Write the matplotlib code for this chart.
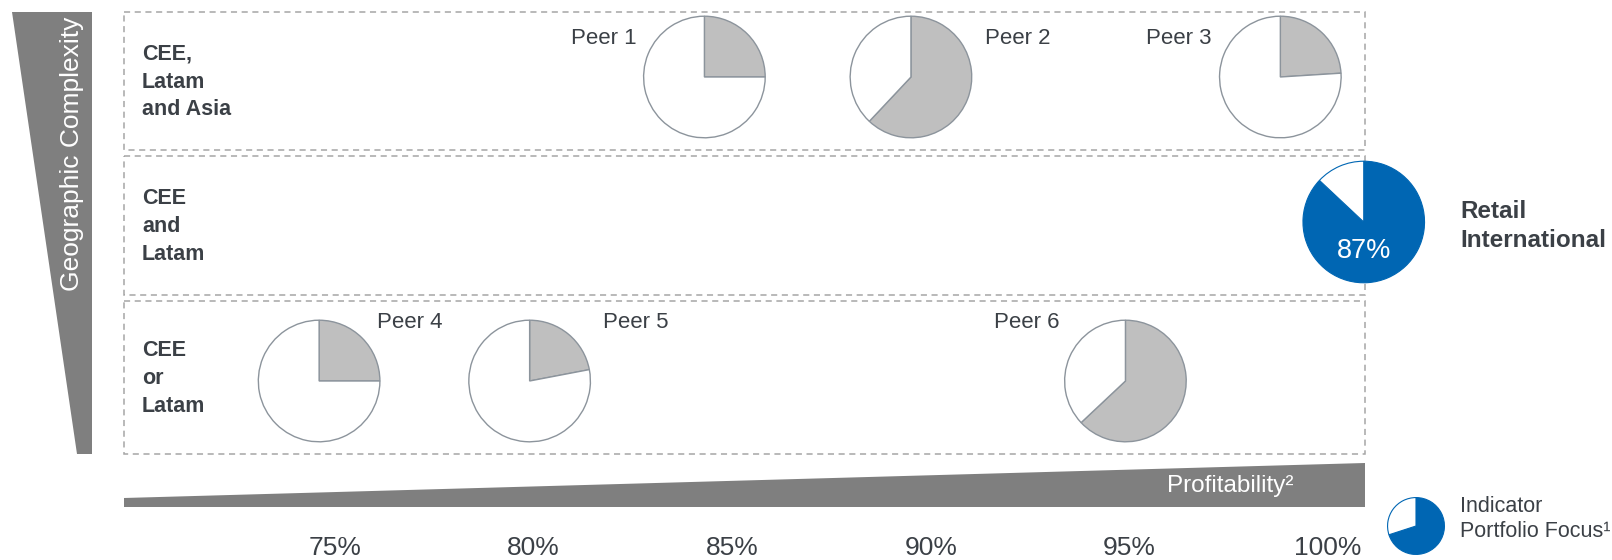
import matplotlib
matplotlib.use("Agg")
import matplotlib.pyplot as plt
from matplotlib.patches import Polygon, Rectangle

plt.rcParams['font.family'] = ['Liberation Sans', 'DejaVu Sans']

# ---- data -------------------------------------------------------------
peer_names = ["Peer 1", "Peer 2", "Peer 3", "Peer 4", "Peer 5", "Peer 6"]
peer_profit = [84.3, 89.5, 98.8, 74.6, 79.9, 94.9]      # profitability (%)
peer_row = [0, 0, 0, 2, 2, 2]                          # geographic row
peer_focus = [25, 62, 24, 25, 22, 63]                  # portfolio focus (%)

own_name = "Retail\nInternational"
own_profit = 100.9
own_row = 1
own_focus = 87

legend_focus = 70

row_labels = ["CEE,\nLatam\nand Asia", "CEE\nand\nLatam", "CEE\nor\nLatam"]
tick_values = [75, 80, 85, 90, 95, 100]
tick_labels = ["75%", "80%", "85%", "90%", "95%", "100%"]

# ---- styling ----------------------------------------------------------
W, H = 1612, 560
GREY = "#BFBFBF"
EDGE = "#8C949C"
BLUE = "#0066B3"
DARK = "#3B4046"
WEDGE = "#7F7F7F"
BOX = "#A6A6A6"

fig = plt.figure(figsize=(W / 100, H / 100), dpi=100)
ax = fig.add_axes([0, 0, 1, 1])
# horizontal axis in profitability units, vertical in pixel rows
px_per_pct = (1328 - 335) / 25.0
x_at = lambda px: 75 + (px - 335) / px_per_pct
ax.set_xlim(x_at(0), x_at(W))
ax.set_ylim(H, 0)
ax.axis("off")

box_left, box_right = x_at(124), x_at(1365)
rows = [(12, 150), (156, 295), (301, 454)]
row_centers = [77, 222, 381]

for (top, bot), lab in zip(rows, row_labels):
    ax.add_patch(Rectangle((box_left, top), box_right - box_left, bot - top,
                           fill=False, edgecolor=BOX, linewidth=1.1,
                           linestyle=(0, (4, 3))))
    ax.text(x_at(142), (top + bot) / 2 + 1, lab, ha="left", va="center",
            fontsize=15.5, fontweight="bold", color=DARK, linespacing=1.42)

# vertical wedge: geographic complexity
ax.add_patch(Polygon([(x_at(12), 12), (x_at(92), 12), (x_at(92), 454), (x_at(77), 454)],
                     closed=True, facecolor=WEDGE, edgecolor="none"))
ax.text(x_at(72), 154, "Geographic Complexity", rotation=90, ha="center", va="center",
        fontsize=19, color="white")

# horizontal wedge: profitability
ax.add_patch(Polygon([(box_left, 498), (box_right, 463), (box_right, 507), (box_left, 507)],
                     closed=True, facecolor=WEDGE, edgecolor="none"))
ax.text(x_at(1230), 486, "Profitability²", ha="center", va="center",
        fontsize=17.5, color="white")

for v, t in zip(tick_values, tick_labels):
    ax.text(v, 548, t, ha="center", va="center", fontsize=19, color=DARK)


def pie_at(x, y, r_px, values, colors, edge, lw=1.0):
    cx, cy = ax.transData.transform((x, y))
    pax = fig.add_axes([(cx - r_px) / W, (cy - r_px) / H, 2 * r_px / W, 2 * r_px / H])
    pax.pie(values, colors=colors, startangle=90, counterclock=False, radius=1.0,
            wedgeprops=dict(edgecolor=edge, linewidth=lw))
    pax.set_xlim(-1.02, 1.02)
    pax.set_ylim(-1.02, 1.02)
    pax.set_aspect("equal")
    pax.axis("off")
    return pax


R = 62
label_pos = [(604, 38), (1018, 38), (1179, 38), (410, 323), (636, 323), (1027, 323)]
for name, p, row, f, (lx, ly) in zip(peer_names, peer_profit, peer_row, peer_focus, label_pos):
    pie_at(p, row_centers[row], R, [f, 100 - f], [GREY, "white"], EDGE)
    ax.text(x_at(lx), ly, name, ha="center", va="center", fontsize=16, color=DARK)

own_ax = pie_at(own_profit, row_centers[own_row], R, [own_focus, 100 - own_focus],
                [BLUE, "white"], BLUE, lw=0.8)
own_ax.text(0, -0.47, f"{own_focus}%", ha="center", va="center", fontsize=19.5, color="white")
ax.text(x_at(1460), 226, own_name, ha="left", va="center", fontsize=17.5,
        fontweight="bold", color=DARK, linespacing=1.3)

# legend
pie_at(x_at(1416), 526, 29, [legend_focus, 100 - legend_focus], [BLUE, "white"], BLUE, lw=0.8)
ax.text(x_at(1460), 519, "Indicator\nPortfolio Focus¹", ha="left", va="center",
        fontsize=15.5, color=DARK, linespacing=1.3)

fig.savefig("out.png", dpi=100)
